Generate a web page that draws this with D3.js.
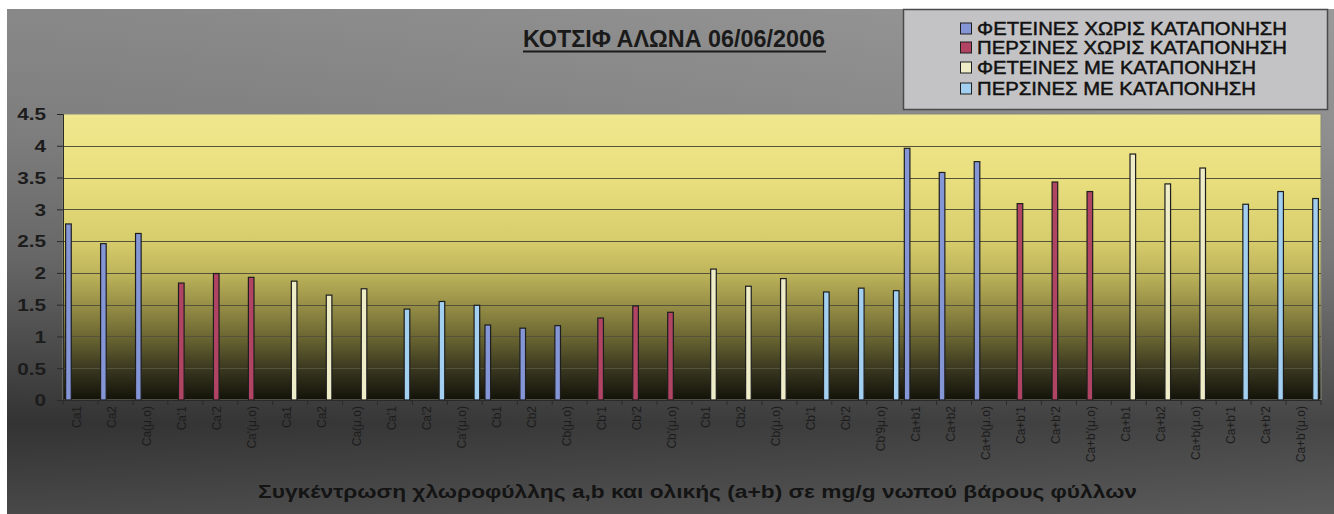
<!DOCTYPE html>
<html>
<head>
<meta charset="utf-8">
<script src="https://cdn.jsdelivr.net/npm/d3@7"></script>
<style>
  html, body { margin: 0; padding: 0; background: #ffffff; }
  svg { display: block; }
  text { font-family: "Liberation Sans", Arial, sans-serif; }
</style>
</head>
<body>
<svg id="chart" width="1334" height="514"></svg>
<script>
// Category labels along the x axis (one bar per category)
const categories = [
  "Ca1", "Ca2", "Ca(μ.o)", "Ca'1", "Ca'2", "Ca'(μ.o)",
  "Ca1", "Ca2", "Ca(μ.o)", "Ca'1", "Ca'2", "Ca'(μ.o)",
  "Cb1", "Cb2", "Cb(μ.o)", "Cb'1", "Cb'2", "Cb'(μ.o)",
  "Cb1", "Cb2", "Cb(μ.o)", "Cb'1", "Cb'2", "Cb'9μ.o)",
  "Ca+b1", "Ca+b2", "Ca+b(μ.o)", "Ca+b'1", "Ca+b'2", "Ca+b'(μ.o)",
  "Ca+b1", "Ca+b2", "Ca+b(μ.o)", "Ca+b'1", "Ca+b'2", "Ca+b'(μ.o)"
];

// Series names (legend order)
const seriesNames = [
  "ΦΕΤΕΙΝΕΣ ΧΩΡΙΣ ΚΑΤΑΠΟΝΗΣΗ",
  "ΠΕΡΣΙΝΕΣ ΧΩΡΙΣ ΚΑΤΑΠΟΝΗΣΗ",
  "ΦΕΤΕΙΝΕΣ ΜΕ ΚΑΤΑΠΟΝΗΣΗ",
  "ΠΕΡΣΙΝΕΣ ΜΕ ΚΑΤΑΠΟΝΗΣΗ"
];
const seriesColors = ["#8496d6", "#b04462", "#efecc8", "#a3d0f0"];

// Values in mg/g per category; null where the series has no value
const n = null;
const fetinesXoris = [2.77, 2.46, 2.62, n, n, n, n, n, n, n, n, n,
                      1.18, 1.13, 1.17, n, n, n, n, n, n, n, n, n,
                      3.96, 3.58, 3.75, n, n, n, n, n, n, n, n, n];
const persinesXoris = [n, n, n, 1.84, 1.99, 1.93, n, n, n, n, n, n,
                       n, n, n, 1.29, 1.48, 1.38, n, n, n, n, n, n,
                       n, n, n, 3.09, 3.43, 3.28, n, n, n, n, n, n];
const fetinesMe = [n, n, n, n, n, n, 1.87, 1.65, 1.75, n, n, n,
                   n, n, n, n, n, n, 2.06, 1.79, 1.91, n, n, n,
                   n, n, n, n, n, n, 3.87, 3.40, 3.65, n, n, n];
const persinesMe = [n, n, n, n, n, n, n, n, n, 1.43, 1.55, 1.49,
                    n, n, n, n, n, n, n, n, n, 1.70, 1.76, 1.72,
                    n, n, n, n, n, n, n, n, n, 3.08, 3.28, 3.17];

const yTicks = [0, 0.5, 1, 1.5, 2, 2.5, 3, 3.5, 4, 4.5];

const title = "ΚΟΤΣΙΦ ΑΛΩΝΑ 06/06/2006";
const xTitle = "Συγκέντρωση χλωροφύλλης a,b και ολικής (a+b) σε mg/g νωπού βάρους φύλλων";

const seriesValues = [fetinesXoris, persinesXoris, fetinesMe, persinesMe];

const svg = d3.select("#chart");
const W = 1334, H = 514;
const plot = { left: 63, right: 1321, top: 114, bottom: 400 };

const defs = svg.append("defs");

// Outer chart background: grey, darkening toward the bottom
const bgGrad = defs.append("linearGradient").attr("id", "bgGrad")
  .attr("x1", 0).attr("y1", 0).attr("x2", 0).attr("y2", 1);
[[0, "#919191"], [0.25, "#858585"], [0.5, "#6c6c6c"], [0.7, "#4a4a4a"],
 [0.82, "#363636"], [1, "#4d4d4d"]].forEach(([o, c]) =>
  bgGrad.append("stop").attr("offset", o).attr("stop-color", c));

const bgSide = defs.append("linearGradient").attr("id", "bgSide")
  .attr("x1", 0).attr("y1", 0).attr("x2", 1).attr("y2", 0);
bgSide.append("stop").attr("offset", 0).attr("stop-color", "#000").attr("stop-opacity", 0.06);
bgSide.append("stop").attr("offset", 1).attr("stop-color", "#fff").attr("stop-opacity", 0.08);

// Plot area: yellow at the top fading to black at the baseline
const plotGrad = defs.append("linearGradient").attr("id", "plotGrad")
  .attr("x1", 0).attr("y1", 0).attr("x2", 0).attr("y2", 1);
[[0, "#f0e78e"], [0.22, "#e9df7e"], [0.44, "#d8cd6c"], [0.56, "#bdb35a"],
 [0.67, "#968e46"], [0.78, "#6b6632"], [0.89, "#3a3820"], [1, "#121209"]]
  .forEach(([o, c]) => plotGrad.append("stop").attr("offset", o).attr("stop-color", c));

svg.append("rect").attr("x", 7).attr("y", 9).attr("width", W - 7).attr("height", H - 9)
  .attr("fill", "url(#bgGrad)");
svg.append("rect").attr("x", 7).attr("y", 9).attr("width", W - 7).attr("height", H - 9)
  .attr("fill", "url(#bgSide)");

// Scales
const x = d3.scaleBand()
  .domain(d3.range(categories.length))
  .range([plot.left, plot.right])
  .paddingInner(0).paddingOuter(0);

const xs = d3.scaleBand()
  .domain(d3.range(seriesNames.length))
  .range([0, x.bandwidth()])
  .paddingInner(0.3).paddingOuter(0.33);

const y = d3.scaleLinear().domain([0, 4.5]).range([plot.bottom, plot.top]);

// Plot background
svg.append("rect")
  .attr("x", plot.left).attr("y", plot.top)
  .attr("width", plot.right - plot.left).attr("height", plot.bottom - plot.top)
  .attr("fill", "url(#plotGrad)")
  .attr("stroke", "#8a8a80").attr("stroke-width", 1);

// Gridlines
svg.append("g")
  .selectAll("line")
  .data(yTicks.filter(d => d > 0 && d < 4.5))
  .join("line")
  .attr("x1", plot.left).attr("x2", plot.right)
  .attr("y1", d => Math.round(y(d)) + 0.5).attr("y2", d => Math.round(y(d)) + 0.5)
  .attr("stroke", "#55533a").attr("stroke-width", 1);

// Y axis
const yAxis = d3.axisLeft(y).tickValues(yTicks).tickSize(6).tickPadding(10)
  .tickFormat(d3.format("~g"));
const yG = svg.append("g").attr("transform", `translate(${plot.left},0)`).call(yAxis);
yG.select(".domain").attr("stroke", "#2a2a2a");
yG.selectAll(".tick line").attr("stroke", "#2a2a2a");
yG.selectAll(".tick text")
  .attr("x", null).attr("dy", null)
  .attr("text-anchor", "end")
  .attr("dominant-baseline", "central")
  .attr("transform", "translate(-17,0) scale(1.22,1)")
  .attr("font-size", 17).attr("font-weight", "bold")
  .attr("fill", "#1c1c1c");

// Bars
const barsG = svg.append("g");
seriesValues.forEach((vals, s) => {
  barsG.append("g")
    .selectAll("rect")
    .data(vals.map((v, i) => ({ i, v })).filter(d => d.v !== null))
    .join("rect")
    .attr("x", d => x(d.i) + xs(s))
    .attr("y", d => y(d.v))
    .attr("width", xs.bandwidth())
    .attr("height", d => y(0) - y(d.v))
    .attr("fill", seriesColors[s])
    .attr("stroke", "#1e1e1e").attr("stroke-width", 1.2);
});

// X axis: ticks at category boundaries, labels rotated
const xAxisG = svg.append("g").attr("transform", `translate(0,${plot.bottom})`);
xAxisG.append("line").attr("x1", plot.left).attr("x2", plot.right)
  .attr("y1", 0.5).attr("y2", 0.5).attr("stroke", "#2a2a2a");
xAxisG.selectAll("line.tick")
  .data(d3.range(categories.length + 1))
  .join("line").attr("class", "tick")
  .attr("x1", i => i < categories.length ? x(i) : plot.right)
  .attr("x2", i => i < categories.length ? x(i) : plot.right)
  .attr("y1", 0).attr("y2", 5)
  .attr("stroke", "#2a2a2a");
xAxisG.selectAll("text")
  .data(categories)
  .join("text")
  .attr("transform", (d, i) => `translate(${x(i) + x.bandwidth() / 2 - 3},6) rotate(-90)`)
  .attr("text-anchor", "end")
  .attr("dominant-baseline", "central")
  .attr("font-size", 12)
  .attr("fill", "#1c1c1c")
  .text(d => d);

// Title
svg.append("text")
  .attr("x", 523).attr("y", 47)
  .attr("font-size", 23).attr("font-weight", "bold")
  .attr("fill", "#1a1a1a")
  .attr("textLength", 302).attr("lengthAdjust", "spacingAndGlyphs")
  .text(title);
svg.append("line")
  .attr("x1", 523).attr("x2", 826).attr("y1", 51.5).attr("y2", 51.5)
  .attr("stroke", "#1a1a1a").attr("stroke-width", 2);

// X axis title
svg.append("text")
  .attr("x", 258).attr("y", 498)
  .attr("font-size", 18).attr("font-weight", "bold")
  .attr("fill", "#141414")
  .attr("textLength", 879).attr("lengthAdjust", "spacingAndGlyphs")
  .text(xTitle);

// Legend
const legend = svg.append("g");
legend.append("rect")
  .attr("x", 903.5).attr("y", 9.5).attr("width", 424).attr("height", 100)
  .attr("fill", "#c3c3c5").attr("stroke", "#4a4a4a").attr("stroke-width", 1.5);
const legendWidths = [310, 310, 279, 279];
const legendY = [29, 48, 68, 89];
seriesNames.forEach((name, s) => {
  const row = legend.append("g").attr("transform", `translate(960,${legendY[s]})`);
  row.append("rect").attr("x", 0.5).attr("y", -6).attr("width", 11).attr("height", 11)
    .attr("fill", seriesColors[s]).attr("stroke", "#1e1e1e").attr("stroke-width", 1);
  row.append("text")
    .attr("x", 17).attr("y", 0)
    .attr("dominant-baseline", "central")
    .attr("font-size", 18)
    .attr("fill", "#111")
    .attr("stroke", "#111").attr("stroke-width", 0.45)
    .attr("textLength", legendWidths[s]).attr("lengthAdjust", "spacingAndGlyphs")
    .text(name);
});
</script>
</body>
</html>
